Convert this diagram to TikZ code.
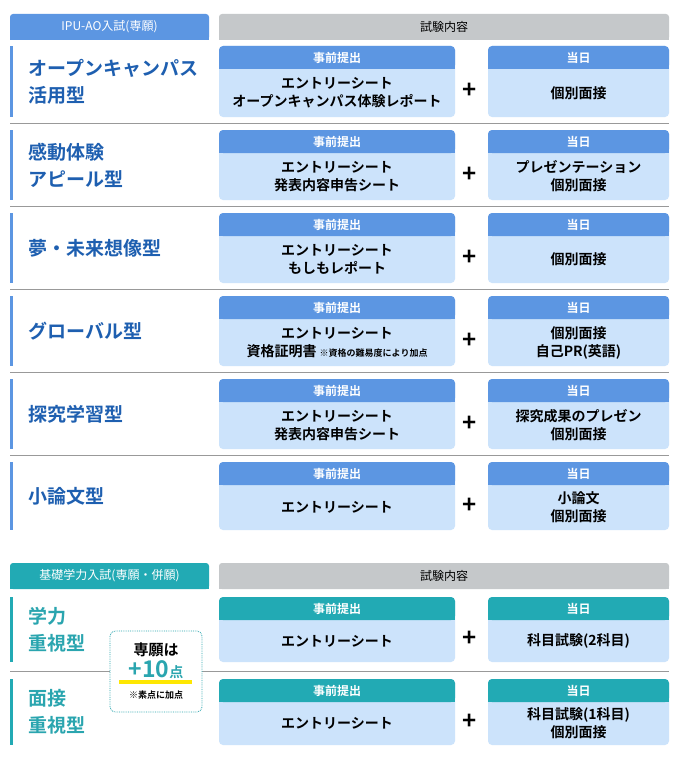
\documentclass[tikz,border=0pt]{standalone}
\usepackage{fontspec}
\setmainfont{Noto Sans CJK JP}[BoldFont={Noto Sans CJK JP Bold}]
\definecolor{hblue}{HTML}{5C96E2}
\definecolor{lblue}{HTML}{CCE3FB}
\definecolor{tblue}{HTML}{1E5FB0}
\definecolor{teal}{HTML}{22AAB4}
\definecolor{tteal}{HTML}{2AA5AF}
\definecolor{hgray}{HTML}{C5C8CA}
\definecolor{sep}{HTML}{999999}
\tikzset{
 hdr/.style={font=\bfseries\fontsize{12}{14}\selectfont, inner sep=0pt},
 body/.style={font=\bfseries\fontsize{14}{18}\selectfont, align=center, inner sep=0pt},
 ttl/.style={font=\bfseries\fontsize{19}{27}\selectfont, align=left, anchor=west, inner sep=0pt},
}
% #1 name #2 top #3 height #4 head colour #5 title #6 title colour #7 box1 #8 box2
\newcommand\examrow[8]{%
 \fill[#4] (10,#2) rectangle (13,#2+#3);
 \node[ttl,text=#6] (t#1) at (28,#2+#3/2) {#5};
 \fill[lblue,rounded corners=4] (219,#2) rectangle (455,#2+#3);
 \fill[#4,rounded corners=4] (219,#2) rectangle (455,#2+23);
 \fill[#4] (219,#2+12) rectangle (455,#2+23);
 \fill[lblue,rounded corners=4] (488,#2) rectangle (669,#2+#3);
 \fill[#4,rounded corners=4] (488,#2) rectangle (669,#2+23);
 \fill[#4] (488,#2+12) rectangle (669,#2+23);
 \node[hdr,text=white] (ha#1) at (337,#2+11.5) {事前提出};
 \node[hdr,text=white] (hb#1) at (578.5,#2+11.5) {当日};
 \node[body] (a#1) at (337,#2+23+#3/2-11.5) {#7};
 \node[body] (b#1) at (578.5,#2+23+#3/2-11.5) {#8};
 \node[font=\bfseries\fontsize{24}{24}\selectfont,inner sep=0pt] (p#1) at (470,#2+23+#3/2-13.5) {+};
}
\begin{document}
\begin{tikzpicture}[x=1pt,y=-1pt]
\useasboundingbox[fill=white] (0,0) rectangle (680,760);
% section 1 header
\fill[hblue,rounded corners=3] (10,14) rectangle (209,40);
\fill[hblue] (10,30) rectangle (209,40);
\node[hdr,text=white,font=\fontsize{12}{14}\selectfont] (h1) at (109.5,27) {IPU-AO入試(専願)};
\fill[hgray,rounded corners=3] (219,14) rectangle (669,40);
\fill[hgray] (219,30) rectangle (669,40);
\node[hdr,font=\fontsize{12}{14}\selectfont] (g1) at (444,27) {試験内容};
\examrow{1}{46}{71}{hblue}{オープンキャンパス\\活用型}{tblue}{エントリーシート\\オープンキャンパス体験レポート}{個別面接}
\examrow{2}{130}{70}{hblue}{感動体験\\アピール型}{tblue}{エントリーシート\\発表内容申告シート}{プレゼンテーション\\個別面接}
\examrow{3}{213}{70}{hblue}{夢・未来想像型}{tblue}{エントリーシート\\もしもレポート}{個別面接}
\examrow{4}{296}{70}{hblue}{グローバル型}{tblue}{エントリーシート\\資格証明書 {\fontsize{9}{10}\selectfont ※資格の難易度により加点}}{個別面接\\自己PR(英語)}
\examrow{5}{379}{70}{hblue}{探究学習型}{tblue}{エントリーシート\\発表内容申告シート}{探究成果のプレゼン\\個別面接}
\examrow{6}{462}{68}{hblue}{小論文型}{tblue}{エントリーシート}{小論文\\個別面接}
\foreach \y in {123,206,289,372,455}{\draw[sep] (10,\y) -- (669,\y);}
% section 2 header
\fill[teal,rounded corners=3] (10,563) rectangle (209,589);
\fill[teal] (10,579) rectangle (209,589);
\node[hdr,text=white,font=\fontsize{12}{14}\selectfont] (h2) at (109.5,576) {基礎学力入試(専願・併願)};
\fill[hgray,rounded corners=3] (219,563) rectangle (669,589);
\fill[hgray] (219,579) rectangle (669,589);
\node[hdr,font=\fontsize{12}{14}\selectfont] (g2) at (444,576) {試験内容};
\examrow{7}{597}{65}{teal}{学力\\重視型}{tteal}{エントリーシート}{科目試験(2科目)}
\examrow{8}{679}{66}{teal}{面接\\重視型}{tteal}{エントリーシート}{科目試験(1科目)\\個別面接}
\draw[sep] (10,671) -- (669,671);
% badge
\draw[tteal,densely dotted,thick,fill=white,rounded corners=5] (110,631) rectangle (202,712);
\fill[yellow!90!orange] (119,680) rectangle (192,684);
\node[font=\bfseries\fontsize{15}{16}\selectfont,inner sep=0pt] (k1) at (156,650) {専願は};
\node[font=\bfseries\fontsize{23}{24}\selectfont,text=tteal,inner sep=0pt] (k2) at (156,670) {+10{\fontsize{14}{14}\selectfont 点}};
\node[font=\bfseries\fontsize{9}{10}\selectfont,inner sep=0pt] (k3) at (156,695) {※素点に加点};
\end{tikzpicture}
\end{document}
